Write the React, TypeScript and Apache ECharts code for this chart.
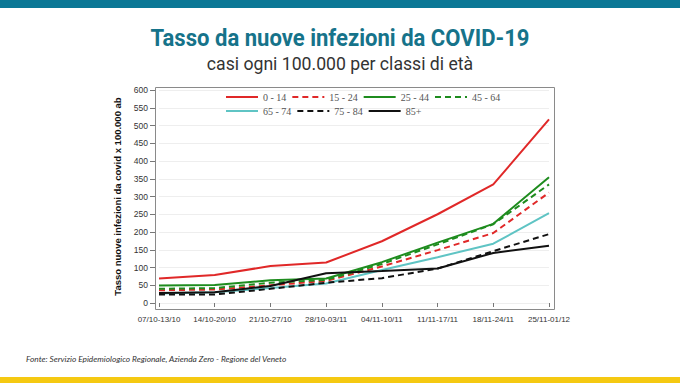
import React, { useEffect, useRef } from "react";
import * as echarts from "echarts";

const categories = [
  "07/10-13/10",
  "14/10-20/10",
  "21/10-27/10",
  "28/10-03/11",
  "04/11-10/11",
  "11/11-17/11",
  "18/11-24/11",
  "25/11-01/12",
];
const age0_14 = [69, 79, 104, 114, 174, 250, 334, 517];
const age15_24 = [36, 38, 50, 62, 103, 149, 197, 311];
const age25_44 = [49, 51, 64, 69, 115, 170, 223, 354];
const age45_64 = [40, 42, 57, 65, 110, 165, 222, 334];
const age65_74 = [27, 30, 42, 55, 93, 129, 167, 253];
const age75_84 = [24, 24, 40, 57, 70, 97, 146, 194];
const age85 = [28, 30, 48, 84, 90, 97, 141, 161];

const yTicks = { min: 0, max: 600, interval: 50 };

const RED = "#e02828";
const GREEN = "#1e8c1e";
const CYAN = "#5fc4c4";
const BLACK = "#111111";

export default function App() {
  const ref = useRef<HTMLDivElement>(null);
  useEffect(() => {
    if (!ref.current) return;
    const chart = echarts.init(ref.current, undefined, { renderer: "svg" });
    const mk = (name: string, data: number[], color: string, dashed: boolean) => ({
      name,
      type: "line",
      data,
      symbol: "none",
      lineStyle: { color, width: 2, type: dashed ? [6, 4] : "solid" },
      itemStyle: { color },
      z: 3,
    });
    const legendCommon = {
      left: 220,
      itemWidth: 32,
      itemHeight: 10,
      itemGap: 5,
      itemStyle: { opacity: 0 },
      formatter: (n: string) => `{t|${n}}`,
      textStyle: {
        fontFamily: "Liberation Serif",
        fontSize: 10,
        color: "#555",
        rich: { t: { width: 26, fontFamily: "Liberation Serif", fontSize: 10, color: "#555" } },
      },
    };
    chart.setOption({
      animation: false,
      backgroundColor: "#ffffff",
      graphic: [
        { type: "rect", shape: { x: 0, y: 0, width: 680, height: 8 }, style: { fill: "#0b7896" } },
        { type: "rect", shape: { x: 0, y: 377, width: 680, height: 6 }, style: { fill: "#f5c912" } },
        {
          type: "text",
          x: 340,
          y: 38,
          scaleX: 0.92,
          style: {
            text: "Tasso da nuove infezioni da COVID-19",
            font: "bold 24px Roboto",
            fill: "#16738a",
            align: "center",
            verticalAlign: "middle",
          },
        },
        {
          type: "text",
          x: 340,
          y: 63,
          scaleX: 0.98,
          style: {
            text: "casi ogni 100.000 per classi di età",
            font: "18px Roboto",
            fill: "#333333",
            align: "center",
            verticalAlign: "middle",
          },
        },
        {
          type: "text",
          x: 26,
          y: 359,
          scaleX: 0.98,
          style: {
            text: "Fonte: Servizio Epidemiologico Regionale, Azienda Zero - Regione del Veneto",
            font: "italic 8.5px Lato",
            fill: "#333333",
            align: "left",
            verticalAlign: "middle",
          },
        },
        {
          type: "rect",
          shape: { x: 155.5, y: 87.5, width: 399, height: 222 },
          style: { fill: "none", stroke: "#8a8a8a", lineWidth: 1 },
          z: 10,
        },
      ],
      legend: [
        { ...legendCommon, top: 87, data: ["0 - 14", "15 - 24", "25 - 44", "45 - 64"] },
        { ...legendCommon, top: 101, data: ["65 - 74", "75 - 84", "85+"] },
      ],
      grid: { left: 159, right: 131, top: 90, bottom: 80, containLabel: false },
      xAxis: {
        type: "category",
        data: categories,
        boundaryGap: false,
        offset: 6,
        axisLine: { show: false },
        axisTick: { show: true, length: 4, lineStyle: { color: "#777" } },
        axisLabel: {
          fontFamily: "Liberation Sans",
          fontSize: 8,
          color: "#333",
          margin: 6,
          interval: 0,
        },
        splitLine: { show: false },
      },
      yAxis: {
        type: "value",
        ...yTicks,
        offset: 4,
        name: "Tasso nuove infezioni da covid x 100.000 ab",
        nameLocation: "middle",
        nameRotate: 90,
        nameGap: 32,
        nameTextStyle: { fontFamily: "Liberation Sans", fontWeight: "bold", fontSize: 9.5, color: "#111" },
        axisLine: { show: false },
        axisTick: { show: true, length: 5, lineStyle: { color: "#777" } },
        axisLabel: { fontFamily: "Liberation Sans", fontSize: 8.5, color: "#333", margin: 7 },
        splitLine: { show: true, lineStyle: { color: "#eeeeee", width: 1 } },
      },
      series: [
        mk("0 - 14", age0_14, RED, false),
        mk("15 - 24", age15_24, RED, true),
        mk("25 - 44", age25_44, GREEN, false),
        mk("45 - 64", age45_64, GREEN, true),
        mk("65 - 74", age65_74, CYAN, false),
        mk("75 - 84", age75_84, BLACK, true),
        mk("85+", age85, BLACK, false),
      ],
    });
    return () => chart.dispose();
  }, []);
  return (
    <div
      ref={ref}
      style={{ position: "fixed", left: 0, top: 0, width: 680, height: 383, background: "#fff" }}
    />
  );
}
